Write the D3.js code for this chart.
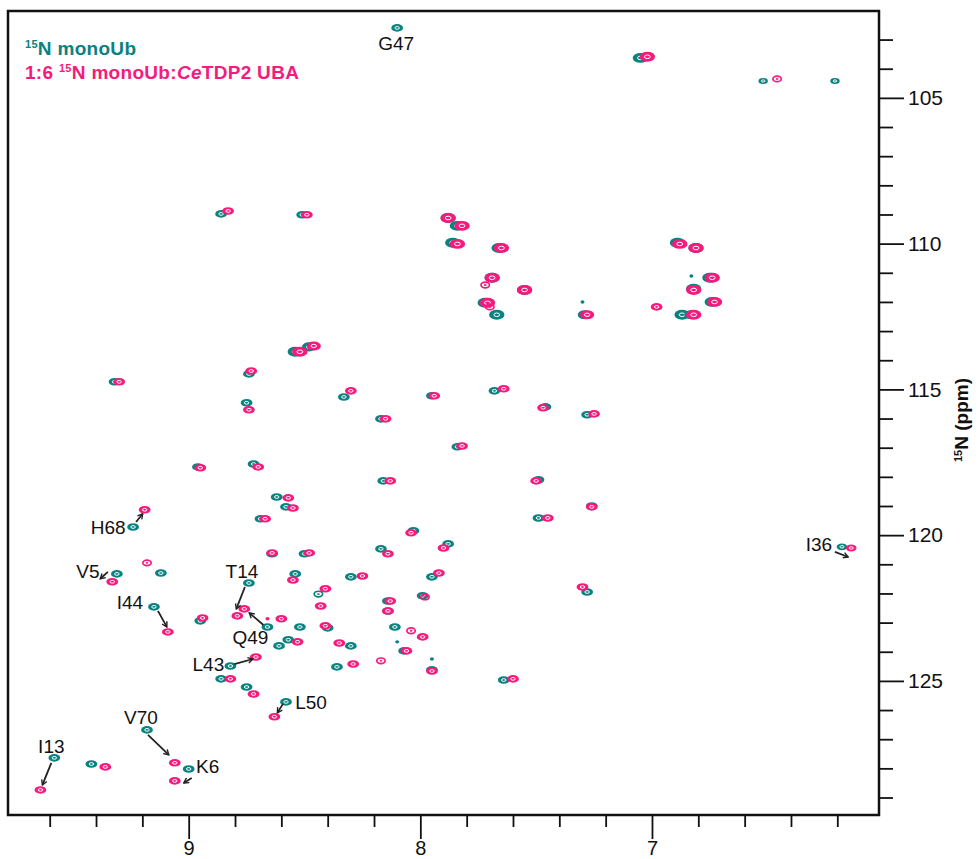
<!DOCTYPE html>
<html>
<head>
<meta charset="utf-8">
<script src="https://cdn.jsdelivr.net/npm/d3@7"></script>
<style>
  body { margin: 0; background: #fff; }
  svg text { font-family: "Liberation Sans", Arial, Helvetica, sans-serif; }
</style>
</head>
<body>
<svg id="chart" width="980" height="859"></svg>
<script>
// 1H (ppm), 15N (ppm), relative peak height
const freeUb = [
  [8.10,102.60,1],[7.05,103.63,1.3],[6.52,104.42,0.8],[6.21,104.42,0.8],
  [8.86,108.98,1],[8.51,109.01,1],[7.88,109.12,1.3],[7.84,109.39,1.3],
  [7.86,109.97,1.3],[7.66,110.15,1.3],[7.69,111.17,1.3],[7.72,112.03,1.3],
  [7.67,112.44,1.3],[6.89,109.97,1.3],[6.81,110.15,1.3],[7.55,111.59,1.3],
  [7.29,112.44,1.2],[6.75,111.17,1.3],[6.82,111.55,1.3],[6.74,112.00,1.3],
  [6.87,112.44,1.3],[6.83,112.44,1.2],[8.54,113.71,1.3],[8.48,113.54,1.2],
  [8.74,114.47,1],[9.32,114.74,1],[8.33,115.26,1],[8.75,115.46,1],
  [8.17,116.01,1],[7.95,115.22,1],[7.68,115.05,1],[7.46,115.60,1],
  [7.28,115.87,1],[7.84,116.97,1],[8.96,117.66,1],[8.72,117.56,1],
  [8.16,118.14,1],[8.62,118.69,1],[8.58,119.03,1],[8.69,119.44,1],
  [7.49,118.10,1],[7.26,119.00,1],[7.49,119.41,1],[9.24,119.72,1],
  [6.18,120.40,0.9],[8.64,120.64,1],[8.50,120.64,1],[8.17,120.47,1],
  [8.03,119.85,1],[7.88,120.30,1],[9.31,121.33,1],[9.12,121.30,1],
  [8.54,121.33,1],[8.30,121.43,1],[7.95,121.43,1],[8.44,122.02,0.5],
  [7.99,122.08,1],[8.14,122.26,1],[8.14,122.60,1],[9.15,122.46,1],
  [8.95,122.94,1],[8.74,121.64,1],[8.66,123.15,1],[8.52,123.15,1],
  [8.40,123.18,1],[8.11,123.15,1],[7.28,121.95,1],[8.61,123.80,1],
  [8.57,123.59,1],[8.30,123.80,1],[8.07,123.97,1],[8.10,123.66,0.15],
  [7.95,124.25,0.15],[8.82,124.49,1],[8.36,124.52,1],[7.95,124.62,1],
  [8.86,124.93,1],[8.75,125.21,1],[7.64,124.97,1],[8.58,125.72,1],
  [9.18,126.68,1],[9.00,128.02,1],[9.58,127.64,1],[9.42,127.85,1],
  [7.30,112.00,0.15],[6.83,111.11,0.15]
];

const boundUb = [
  [7.02,103.59,1.3],[6.46,104.35,0.5],[8.83,108.88,1],[8.49,109.01,1],
  [7.88,109.12,1.3],[7.82,109.39,1.3],[7.84,110.01,1.3],[7.65,110.15,1.3],
  [7.69,111.17,1.3],[7.72,111.42,0.5],[7.71,112.03,1.3],[7.70,112.17,0.5],
  [6.88,110.01,1.3],[6.81,110.15,1.3],[7.55,111.59,1.3],[7.28,112.44,1.2],
  [6.74,111.17,1.3],[6.82,111.59,1.3],[6.73,112.00,1.3],[6.82,112.44,1.3],
  [6.98,112.17,1],[8.52,113.71,1.3],[8.46,113.51,1.2],[8.73,114.37,1],
  [9.30,114.74,1],[8.30,115.05,1],[8.74,115.70,1],[8.15,116.01,1],
  [7.94,115.22,1],[7.64,114.98,1],[7.47,115.63,1],[7.25,115.84,1],
  [7.82,116.94,1],[8.95,117.69,1],[8.70,117.66,1],[8.13,118.14,1],
  [8.57,118.72,1],[8.55,119.07,1],[8.67,119.44,1],[7.50,118.14,1],
  [7.26,119.03,1],[7.45,119.41,1],[9.19,119.13,1],[6.14,120.44,0.9],
  [8.64,120.61,1],[8.48,120.61,1],[8.14,120.64,1],[8.04,119.92,1],
  [7.90,120.44,1],[9.33,121.60,1],[9.18,120.95,0.5],[8.55,121.54,1],
  [8.25,121.40,1],[7.92,121.30,1],[8.41,121.84,1],[8.43,122.43,1],
  [7.98,122.12,0.5],[8.13,122.26,1],[8.14,122.60,1],[9.09,123.32,1],
  [8.94,122.84,1],[8.79,122.77,1],[8.76,122.53,1],[8.66,122.87,0.15],
  [8.60,122.87,1],[8.41,123.11,1],[8.04,123.28,0.5],[7.99,123.49,1],
  [7.30,121.78,1],[8.53,123.66,1],[8.35,123.70,1],[8.06,123.97,1],
  [8.17,124.31,0.5],[8.71,124.18,1],[8.29,124.42,1],[7.95,124.66,1],
  [8.82,124.93,1],[8.72,125.45,1],[7.60,124.93,1],[8.63,126.23,1],
  [9.06,127.81,1],[9.06,128.43,1],[9.64,128.74,1],[9.36,127.95,1]
];

// residue, free (H, N), bound (H, N)
const residues = ["G47","H68","V5","I44","T14","Q49","L43","L50","V70","K6","I13","I36"];
const residueFree = [[8.10,102.60],[9.24,119.72],[9.31,121.33],[9.15,122.46],[8.74,121.64],[8.66,123.15],
                     [8.82,124.49],[8.58,125.72],[9.18,126.68],[9.00,128.02],[9.58,127.64],[6.18,120.40]];
const residueBound = [null,[9.19,119.13],[9.33,121.60],[9.09,123.32],[8.79,122.77],[8.76,122.53],
                      [8.71,124.18],[8.63,126.23],[9.06,127.81],[9.06,128.43],[9.64,128.74],[6.14,120.44]];

const hMajor = [9, 8, 7];
const nMajor = [105, 110, 115, 120, 125];

const teal = "#0a8280";
const pink = "#f71a7c";

// label offset from free peak, arrow start offset (from free), arrow end offset (from bound)
const labelLayout = {
  G47: { t: [-1, 16] },
  H68: { t: [-25, 1], a: [3, -5], b: [-2, 4] },
  V5:  { t: [-29, -2], a: [-9, -2], b: [-12, -3] },
  I44: { t: [-24, -4], a: [4, 4], b: [-1, -5] },
  T14: { t: [-7, -11], a: [-4, 4], b: [-1, -7] },
  Q49: { t: [-17, 11], a: [-4, -2], b: [5, 4] },
  L43: { t: [-22, -2], a: [4, -2], b: [-3, 2] },
  L50: { t: [25, 1], a: [-3, 2], b: [3, -4] },
  V70: { t: [-6, -12], a: [1, 5], b: [-6, -8] },
  K6:  { t: [19, -2], a: [3, 9], b: [9, 2] },
  I13: { t: [-3, -11], a: [-3, 5], b: [2, -5] },
  I36: { t: [-23, -2], a: [-7, 5], b: [-3, 9] }
};

const svg = d3.select("#chart");
const plotL = 8, plotR = 879, plotT = 11, plotB = 815;

const x = d3.scaleLinear().domain([9.78, 6.02]).range([plotL, plotR]);
const y = d3.scaleLinear().domain([102.02, 129.6]).range([plotT, plotB]);

// axes
const xMinor = d3.range(6.2, 9.7, 0.2).map(v => +v.toFixed(1)).filter(v => !hMajor.includes(v));
const nMinor = d3.range(103, 130, 1).filter(v => !nMajor.includes(v));

svg.append("g")
  .attr("transform", `translate(0,${plotB})`)
  .call(d3.axisBottom(x).tickValues(xMinor).tickSize(12).tickFormat(""))
  .call(g => g.select(".domain").remove());

svg.append("g")
  .attr("transform", `translate(0,${plotB})`)
  .call(d3.axisBottom(x).tickValues(hMajor).tickSize(24).tickPadding(2).tickFormat(d3.format("d")))
  .call(g => g.select(".domain").remove())
  .call(g => g.selectAll("text").attr("font-size", 20).attr("fill", "#111"));

svg.append("g")
  .attr("transform", `translate(${plotR},0)`)
  .call(d3.axisRight(y).tickValues(nMinor).tickSize(14).tickFormat(""))
  .call(g => g.select(".domain").remove());

svg.append("g")
  .attr("transform", `translate(${plotR},0)`)
  .call(d3.axisRight(y).tickValues(nMajor).tickSize(25).tickPadding(4).tickFormat(d3.format("d")))
  .call(g => g.select(".domain").remove())
  .call(g => g.selectAll("text").attr("font-size", 21).attr("fill", "#111"));

svg.selectAll(".tick line").attr("stroke", "#111").attr("stroke-width", 1.8);

// peaks
function drawPeaks(data, color) {
  const g = svg.append("g");
  data.forEach(([h, n, amp]) => {
    const cx = x(h), cy = y(n);
    if (amp < 0.3) {
      g.append("ellipse").attr("cx", cx).attr("cy", cy).attr("rx", 2).attr("ry", 1.7).attr("fill", color);
    } else if (amp < 0.8) {
      g.append("ellipse").attr("cx", cx).attr("cy", cy).attr("rx", 4.2).attr("ry", 2.8)
        .attr("fill", "none").attr("stroke", color).attr("stroke-width", 1.7);
      g.append("ellipse").attr("cx", cx).attr("cy", cy).attr("rx", 1.4).attr("ry", 0.9).attr("fill", color);
    } else {
      const rx = 5.9 * amp, ry = 3.8 * amp;
      g.append("ellipse").attr("cx", cx).attr("cy", cy).attr("rx", rx).attr("ry", ry).attr("fill", color);
      g.append("ellipse").attr("cx", cx).attr("cy", cy).attr("rx", rx * 0.38).attr("ry", ry * 0.36)
        .attr("fill", "none").attr("stroke", "#fff").attr("stroke-width", 1);
    }
  });
}
drawPeaks(freeUb, teal);
drawPeaks(boundUb, pink);

// arrows and residue labels
svg.append("defs").append("marker")
  .attr("id", "head")
  .attr("viewBox", "0 0 10 10")
  .attr("refX", 8).attr("refY", 5)
  .attr("markerWidth", 7).attr("markerHeight", 7)
  .attr("markerUnits", "userSpaceOnUse")
  .attr("orient", "auto")
  .append("path")
  .attr("d", "M1,1 L8,5 L1,9")
  .attr("fill", "none").attr("stroke", "#222").attr("stroke-width", 2);

residues.forEach((res, i) => {
  const f = residueFree[i], b = residueBound[i], lay = labelLayout[res];
  const fx = x(f[0]), fy = y(f[1]);
  svg.append("text")
    .attr("x", fx + lay.t[0]).attr("y", fy + lay.t[1])
    .attr("text-anchor", "middle").attr("dominant-baseline", "central")
    .attr("font-size", 19).attr("fill", "#111")
    .text(res);
  if (b) {
    svg.append("line")
      .attr("x1", fx + lay.a[0]).attr("y1", fy + lay.a[1])
      .attr("x2", x(b[0]) + lay.b[0]).attr("y2", y(b[1]) + lay.b[1])
      .attr("stroke", "#222").attr("stroke-width", 1.8)
      .attr("marker-end", "url(#head)");
  }
});

// frame
svg.append("rect")
  .attr("x", plotL).attr("y", plotT)
  .attr("width", plotR - plotL).attr("height", plotB - plotT)
  .attr("fill", "none").attr("stroke", "#111").attr("stroke-width", 2.5);

// legend
const leg1 = svg.append("text").attr("x", 25).attr("y", 55)
  .attr("font-size", 19).attr("letter-spacing", 0.3).attr("font-weight", "bold").attr("fill", teal);
leg1.append("tspan").attr("font-size", 11).attr("dy", -7).text("15");
leg1.append("tspan").attr("dy", 7).text("N monoUb");

const leg2 = svg.append("text").attr("x", 25).attr("y", 79)
  .attr("font-size", 19).attr("letter-spacing", 0.3).attr("font-weight", "bold").attr("fill", pink);
leg2.append("tspan").text("1:6 ");
leg2.append("tspan").attr("font-size", 11).attr("dy", -7).text("15");
leg2.append("tspan").attr("dy", 7).text("N monoUb:");
leg2.append("tspan").attr("font-style", "italic").text("Ce");
leg2.append("tspan").text("TDP2 UBA");

// y axis title
const yTitle = svg.append("text")
  .attr("transform", "translate(968,420) rotate(-90)")
  .attr("text-anchor", "middle")
  .attr("font-size", 19).attr("font-weight", "bold").attr("fill", "#111");
yTitle.append("tspan").attr("font-size", 11).attr("dy", -6).text("15");
yTitle.append("tspan").attr("dy", 6).text("N (ppm)");
</script>
</body>
</html>
